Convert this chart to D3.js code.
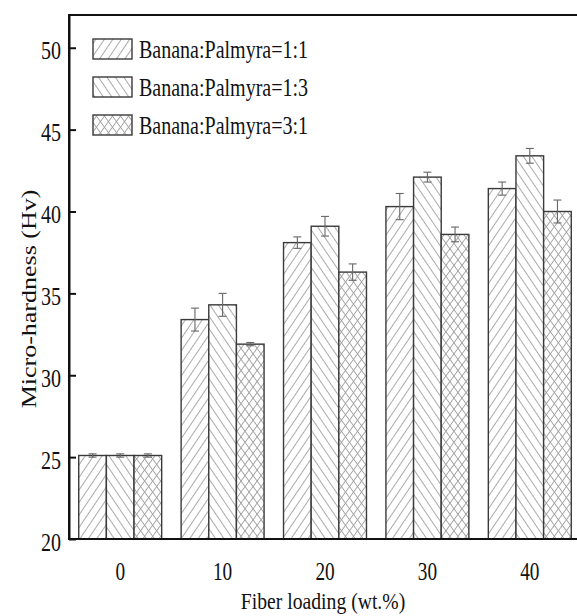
<!DOCTYPE html>
<html>
<head>
<meta charset="utf-8">
<script src="https://cdn.jsdelivr.net/npm/d3@7"></script>
<style>
  body { margin: 0; background: #fff; }
  text { font-family: "Liberation Serif", "Times New Roman", serif; fill: #111; }
</style>
</head>
<body>
<svg id="chart"></svg>
<script>
// Micro-hardness vs fiber loading
var w = 577;
var h = 616;
var plotLeft = 69;     // y axis position
var plotRight = 581;   // frame runs just past the image edge
var plotTop = 15;
var plotBottom = 539;
var sx = 0.77;         // text in the picture is squeezed horizontally

var loadings = ["0", "10", "20", "30", "40"];
var series = ["Banana:Palmyra=1:1", "Banana:Palmyra=1:3", "Banana:Palmyra=3:1"];
var hv11 = [25.1, 33.4, 38.1, 40.3, 41.4];
var hv13 = [25.1, 34.3, 39.1, 42.1, 43.4];
var hv31 = [25.1, 31.9, 36.3, 38.6, 40.0];
var err11 = [0.1, 0.7, 0.35, 0.8, 0.4];
var err13 = [0.1, 0.7, 0.6, 0.3, 0.45];
var err31 = [0.1, 0.1, 0.5, 0.45, 0.7];
var yTicks = [20, 25, 30, 35, 40, 45, 50];

var values = [hv11, hv13, hv31];
var errors = [err11, err13, err31];
var patterns = ["hatchF", "hatchB", "hatchX"];

var svg = d3.select('#chart').attr('width', w).attr('height', h);

// hatch patterns: one vertical line per tile, tile rotated
var defs = svg.append('defs');
function hatch(id, angle, step) {
  var q = defs.append('pattern')
      .attr('id', id)
      .attr('patternUnits', 'userSpaceOnUse')
      .attr('width', step).attr('height', step)
      .attr('patternTransform', 'rotate(' + angle + ')');
  q.append('line')
      .attr('x1', step / 2).attr('y1', 0)
      .attr('x2', step / 2).attr('y2', step)
      .attr('stroke', '#a0a0a0')
      .attr('stroke-width', 0.9);
}
hatch('hatchF', 34, 7);
hatch('hatchB', -34, 7);
hatch('hatchX0', 36, 6.5);
hatch('hatchX1', -36, 6.5);

function fillRect(sel, pat) {
  // white base, then one or two hatch layers, then outline
  sel.append('rect').attr('fill', '#fff');
  if (pat == 'hatchX') {
    sel.append('rect').attr('fill', 'url(#hatchX0)');
    sel.append('rect').attr('fill', 'url(#hatchX1)');
  } else {
    sel.append('rect').attr('fill', 'url(#' + pat + ')');
  }
  sel.append('rect').attr('fill', 'none').attr('stroke', '#3a3a3a').attr('stroke-width', 1.4);
}

var x0 = d3.scaleBand().domain(loadings).range([plotLeft, plotRight])
    .paddingInner(0.19).paddingOuter(0.095);
var x1 = d3.scaleBand().domain(series).range([0, x0.bandwidth()]);
var y = d3.scaleLinear().domain([20, 52]).range([plotBottom, plotTop]);

// bars
for (var s = 0; s < series.length; s++) {
  for (var i = 0; i < loadings.length; i++) {
    var bx = x0(loadings[i]) + x1(series[s]);
    var by = y(values[s][i]);
    var g = svg.append('g');
    fillRect(g, patterns[s]);
    g.selectAll('rect')
        .attr('x', bx).attr('y', by)
        .attr('width', x1.bandwidth())
        .attr('height', plotBottom - by);
  }
}

// error bars
for (var s = 0; s < series.length; s++) {
  for (var i = 0; i < loadings.length; i++) {
    var cx = x0(loadings[i]) + x1(series[s]) + x1.bandwidth() / 2;
    var hi = y(values[s][i] + errors[s][i]);
    var lo = y(values[s][i] - errors[s][i]);
    var eg = svg.append('g').attr('stroke', '#666').attr('stroke-width', 1.1);
    eg.append('line').attr('x1', cx).attr('x2', cx).attr('y1', hi).attr('y2', lo);
    eg.append('line').attr('x1', cx - 4).attr('x2', cx + 4).attr('y1', hi).attr('y2', hi);
    eg.append('line').attr('x1', cx - 4).attr('x2', cx + 4).attr('y1', lo).attr('y2', lo);
  }
}

// frame
svg.append('rect')
    .attr('x', plotLeft).attr('y', plotTop)
    .attr('width', plotRight - plotLeft).attr('height', plotBottom - plotTop)
    .attr('fill', 'none').attr('stroke', '#111').attr('stroke-width', 2);

// y axis, ticks pointing inward
var yAxis = svg.append('g')
    .attr('transform', 'translate(' + plotLeft + ',0)')
    .call(d3.axisLeft(y).tickValues(yTicks).tickSizeInner(-7).tickSizeOuter(0).tickPadding(8));
yAxis.select('.domain').attr('stroke', '#111').attr('stroke-width', 2);
yAxis.selectAll('.tick line').attr('stroke', '#111').attr('stroke-width', 2);
yAxis.selectAll('.tick text')
    .attr('x', null).attr('dy', null)
    .attr('transform', 'translate(-8,11) scale(' + sx + ',1)')
    .attr('font-size', 26)
    .attr('font-family', '"Liberation Serif", serif')
    .attr('fill', '#111');

// x tick labels
svg.selectAll('.xlab').data(loadings).enter()
    .append('text')
    .attr('class', 'xlab')
    .attr('text-anchor', 'middle')
    .attr('font-size', 25)
    .attr('transform', function(d) {
      return 'translate(' + (x0(d) + x0.bandwidth() / 2) + ',580) scale(' + sx + ',1)';
    })
    .text(function(d) { return d; });

// axis titles
svg.append('text')
    .attr('text-anchor', 'middle')
    .attr('font-size', 24)
    .attr('transform', 'translate(' + ((plotLeft + plotRight) / 2 - 2) + ',609) scale(' + (sx + 0.05) + ',1)')
    .text('Fiber loading (wt.%)');

svg.append('text')
    .attr('text-anchor', 'middle')
    .attr('font-size', 26)
    .attr('transform', 'translate(36,299) rotate(-90) scale(1,' + sx + ')')
    .text('Micro-hardness (Hv)');

// legend
var legend = svg.append('g');
for (var s = 0; s < series.length; s++) {
  var ly = 39 + s * 38;
  var lg = legend.append('g');
  fillRect(lg, patterns[s]);
  lg.selectAll('rect')
      .attr('x', 93).attr('y', ly)
      .attr('width', 39).attr('height', 20);
  legend.append('text')
      .attr('font-size', 26)
      .attr('transform', 'translate(139,' + (ly + 19) + ') scale(' + sx + ',1)')
      .text(series[s]);
}
</script>
</body>
</html>
